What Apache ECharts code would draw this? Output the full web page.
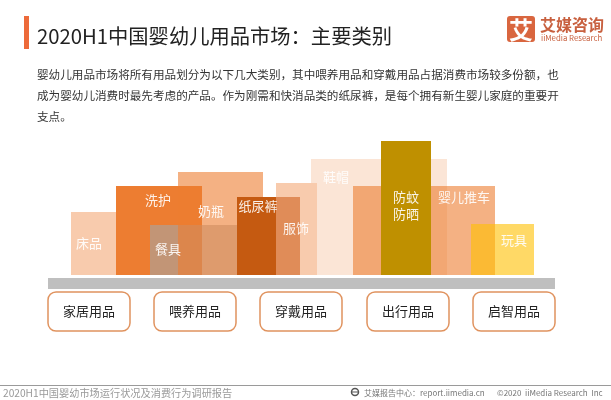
<!DOCTYPE html>
<html>
<head>
<meta charset="utf-8">
<style>html,body{margin:0;padding:0;background:#fff}#c{width:611px;height:400px}</style>
<script src="https://cdn.jsdelivr.net/npm/echarts@6/dist/echarts.min.js"></script>
</head>
<body>
<div id="c"></div>
<script>
var FONT = '"Noto Sans CJK SC"';

// drawn back to front, the overlaps depend on this order
var names = ['床品', '洗护', '餐具', '奶瓶', '鞋帽', '纸尿裤', '服饰', '', '婴儿推车', '防蚊\n防晒', '玩具'];
var starts = [71, 116, 150, 178, 311, 237, 276, 276, 353, 381, 471];
var ends = [116, 202, 237, 263, 447, 276, 317, 300, 495, 431, 534];
var heights = [63, 89, 50, 103, 116, 78, 92, 78, 89, 134, 51];
var colors = ['#f8cbad', '#ed7d31', 'rgba(165,165,165,.6)', 'rgba(237,125,49,.6)', 'rgba(237,125,49,.2)', '#c55a11', '#f8cbad', '#e08c58', 'rgba(237,125,49,.6)', '#bf9000', 'rgba(255,192,0,.6)'];
var labelX = [89, 158, 168, 211, 336, 258, 296, 0, 464, 406, 514];
var labelY = [243, 200, 249, 211, 177, 206, 228, 0, 197, 206, 240];

var groups = ['家居用品', '喂养用品', '穿戴用品', '出行用品', '启智用品'];
var groupStarts = [48, 154, 260, 367, 473];
var bodyLines = [
  '婴幼儿用品市场将所有用品划分为以下几大类别，其中喂养用品和穿戴用品占据消费市场较多份额，也',
  '成为婴幼儿消费时最先考虑的产品。作为刚需和快消品类的纸尿裤，是每个拥有新生婴儿家庭的重要开',
  '支点。'
];

function txt(x, y, text, size, color, align, weight) {
  return {
    type: 'text', x: x, y: y, silent: true, z: 100,
    style: { text: text, font: (weight || 'normal') + ' ' + size + 'px ' + FONT, fill: color, textAlign: align || 'left', textVerticalAlign: 'middle', lineHeight: 17 }
  };
}

var elements = [
  { type: 'rect', shape: { x: 24, y: 16, width: 5, height: 33 }, style: { fill: '#ed6a3a' } },
  txt(37, 36, '2020H1中国婴幼儿用品市场：主要类别', 20.3, '#222'),
  { type: 'rect', shape: { x: 507, y: 16, width: 28, height: 26, r: 3 }, style: { fill: '#d9663f' } },
  txt(521, 29.5, '艾', 24, '#fff', 'center', 'bold'),
  txt(540, 24.5, '艾媒咨询', 16, '#c8603f', 'left', 'bold'),
  txt(541, 38, 'iiMedia Research', 7.8, '#c8603f'),
  { type: 'rect', shape: { x: 48, y: 278, width: 507, height: 11 }, style: { fill: '#bfbfbf' } },
  { type: 'rect', shape: { x: 0, y: 385, width: 611, height: 1 }, style: { fill: '#9a9a9a' } },
  txt(3, 393, '2020H1中国婴幼市场运行状况及消费行为调研报告', 10.2, '#999'),
  { type: 'circle', shape: { cx: 355, cy: 392, r: 3.5 }, style: { fill: '#fff', stroke: '#555', lineWidth: 1.5 } },
  { type: 'rect', shape: { x: 351, y: 391.5, width: 8, height: 1 }, style: { fill: '#555' } },
  txt(364, 393, '艾媒报告中心：report.iimedia.cn', 8, '#777'),
  txt(497, 393, '©2020  iiMedia Research  Inc', 8, '#777')
];
bodyLines.forEach(function (line, i) {
  elements.push(txt(37, 75 + i * 21, line, 11.6, '#333'));
});
groups.forEach(function (g, i) {
  elements.push({ type: 'rect', shape: { x: groupStarts[i], y: 292, width: 82, height: 39, r: 8 }, style: { fill: '#fff', stroke: '#e0935f', lineWidth: 1.5 } });
  elements.push(txt(groupStarts[i] + 41, 311, g, 13, '#222', 'center'));
});
names.forEach(function (n, i) {
  if (n) elements.push(txt(labelX[i], labelY[i], n, 13, 'rgba(255,255,255,.9)', 'center'));
});

var chart = echarts.init(document.getElementById('c'), null, { renderer: 'canvas' });
chart.setOption({
  animation: false,
  grid: { left: 0, right: 0, top: 0, bottom: 125 },
  xAxis: { type: 'value', min: 0, max: 611, show: false },
  yAxis: { type: 'value', min: 0, max: 275, show: false },
  graphic: { elements: elements },
  series: [{
    type: 'custom',
    silent: true,
    data: names.map(function (n, i) { return [starts[i], ends[i], heights[i], i]; }),
    encode: { x: [0, 1], y: 2 },
    renderItem: function (params, api) {
      var a = api.coord([api.value(0), api.value(2)]);
      var b = api.coord([api.value(1), 0]);
      return {
        type: 'rect',
        shape: { x: a[0], y: a[1], width: b[0] - a[0], height: b[1] - a[1] },
        style: { fill: colors[api.value(3)] }
      };
    }
  }]
});
</script>
</body>
</html>
